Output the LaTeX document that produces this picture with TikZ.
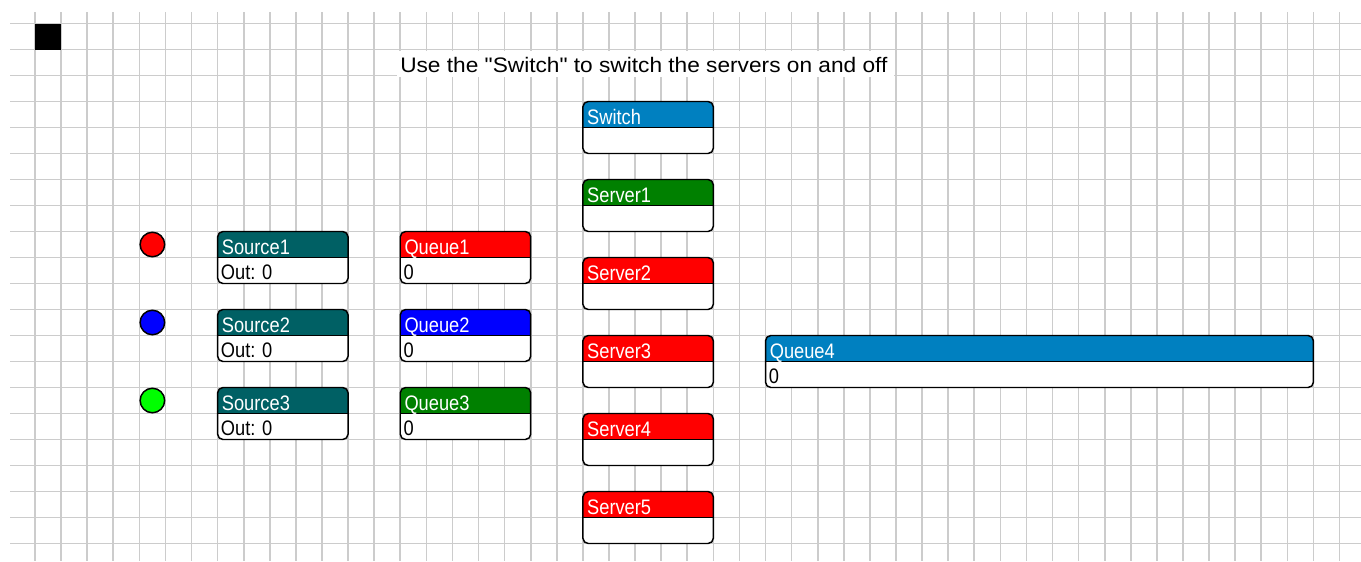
\documentclass[tikz,border=0pt]{standalone}
\usepackage{fontspec}
\setmainfont{Liberation Sans}[Ligatures=TeXOff]
\usetikzlibrary{calc}
\definecolor{srcteal}{RGB}{0,96,100}
\definecolor{swblue}{RGB}{0,128,192}
\definecolor{dgreen}{RGB}{0,128,0}
\definecolor{pred}{RGB}{255,0,0}
\definecolor{pblue}{RGB}{0,0,255}
\definecolor{lgreen}{RGB}{0,255,0}
\definecolor{gridc}{RGB}{204,204,204}
\newcommand\lblx[1]{\scalebox{0.87}[1]{#1}}
\tikzset{
  gridline/.style={draw=gridc, line width=1.2pt},
  boxline/.style={draw=black, line width=1.1pt},
  hdrtxt/.style={anchor=base west, inner sep=0pt, text=white, font=\fontsize{15.75pt}{16pt}\selectfont},
  bodytxt/.style={anchor=base west, inner sep=0pt, text=black, font=\fontsize{15.75pt}{16pt}\selectfont},
  titletxt/.style={anchor=base west, inner sep=0pt, text=black, font=\fontsize{15.75pt}{16pt}\selectfont},
  dot/.style={circle, draw=black, line width=1.1pt, minimum size=18.4pt, inner sep=0pt},
}
\newcommand\blockbox[7]{%
  \pgfmathsetmacro\bx{35+26.09*#2}%
  \pgfmathsetmacro\by{23.5+26*#3}%
  \pgfmathsetmacro\bw{26.09*#4}%
  \begin{scope}
    \clip[rounded corners=4] (\bx,\by) rectangle ++(\bw,52);
    \fill[white] (\bx,\by) rectangle ++(\bw,52);
    \fill[#5] (\bx,\by) rectangle ++(\bw,26);
  \end{scope}
  \draw[boxline, rounded corners=4] (\bx,\by) rectangle ++(\bw,52);
  \draw[boxline] (\bx,\by+26) -- ++(\bw,0);
  \node[hdrtxt] (#1h) at (\bx+4,\by+22.5) {\lblx{#6}};
  \node[bodytxt] (#1b) at (\bx+3,\by+48) {\lblx{#7}};
}
\begin{document}
\begin{tikzpicture}[x=0.75pt, y=-0.75pt]
\useasboundingbox (0,0) rectangle (1361,561);
\fill[white] (0,0) rectangle (1361,561);
% grid
\foreach \i in {0,...,50} \draw[gridline] ({35+26.09*\i},12) -- ({35+26.09*\i},561);
\foreach \j in {0,...,20} \draw[gridline] (10,{23.5+26*\j}) -- (1361,{23.5+26*\j});
% black square
\fill[black] (35,23.5) rectangle (61,49.5);
% title
\fill[white] (397,50.5) rectangle (894,77);
\node[titletxt] (title) at (400,72.5) {\scalebox{1.08}[1]{Use the "Switch" to switch the servers on and off}};
% dots
\node[dot, fill=pred] (d1) at (152.4,244.5) {};
\node[dot, fill=pblue] (d2) at (152.4,322.5) {};
\node[dot, fill=lgreen] (d3) at (152.4,400.5) {};
% blocks
\blockbox{src1}{7}{8}{5}{srcteal}{Source1}{Out: 0}
\blockbox{src2}{7}{11}{5}{srcteal}{Source2}{Out: 0}
\blockbox{src3}{7}{14}{5}{srcteal}{Source3}{Out: 0}
\blockbox{qa}{14}{8}{5}{pred}{Queue1}{0}
\blockbox{qb}{14}{11}{5}{pblue}{Queue2}{0}
\blockbox{qc}{14}{14}{5}{dgreen}{Queue3}{0}
\blockbox{sw}{21}{3}{5}{swblue}{Switch}{}
\blockbox{sva}{21}{6}{5}{dgreen}{Server1}{}
\blockbox{svb}{21}{9}{5}{pred}{Server2}{}
\blockbox{svc}{21}{12}{5}{pred}{Server3}{}
\blockbox{svd}{21}{15}{5}{pred}{Server4}{}
\blockbox{sve}{21}{18}{5}{pred}{Server5}{}
\blockbox{qd}{28}{12}{21}{swblue}{Queue4}{0}
\end{tikzpicture}
\end{document}
